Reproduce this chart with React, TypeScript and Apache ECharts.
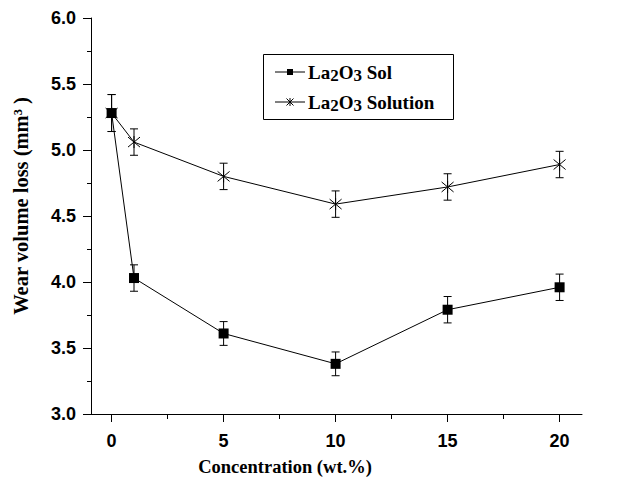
import React, { useEffect, useRef } from "react";
import * as echarts from "echarts";

const concentrations = [0, 1, 5, 10, 15, 20];
const solValues = [5.28, 4.03, 3.61, 3.38, 3.79, 3.96];
const solErrors = [0.14, 0.1, 0.09, 0.09, 0.1, 0.1];
const solutionValues = [5.28, 5.06, 4.8, 4.59, 4.72, 4.89];
const solutionErrors = [0.14, 0.1, 0.1, 0.1, 0.1, 0.1];
const xMajorTicks = [0, 5, 10, 15, 20];
const xMinorTicks = [2.5, 7.5, 12.5, 17.5];
const xTitle = "Concentration (wt.%)";
const yTitle = "Wear volume loss (mm³ )";
const legendLabels = ["La{s|2}O{s|3} Sol", "La{s|2}O{s|3} Solution"];

const STAR = "path://M0,-6L0,6M-5,-5L5,5M-5,5L5,-5";

function errorSeries(values: number[], errors: number[]) {
  const data = concentrations.map((x, i) => [x, values[i] - errors[i], values[i] + errors[i]]);
  return {
    type: "custom",
    xAxisIndex: 0,
    yAxisIndex: 0,
    silent: true,
    data,
    z: 1,
    renderItem: (params: any, api: any) => {
      const x = api.value(0);
      const lo = api.coord([x, api.value(1)]);
      const hi = api.coord([x, api.value(2)]);
      const w = 4;
      const st = { stroke: "#000", lineWidth: 1 };
      return {
        type: "group",
        children: [
          { type: "line", shape: { x1: lo[0], y1: lo[1], x2: hi[0], y2: hi[1] }, style: st },
          { type: "line", shape: { x1: lo[0] - w, y1: lo[1], x2: lo[0] + w, y2: lo[1] }, style: st },
          { type: "line", shape: { x1: hi[0] - w, y1: hi[1], x2: hi[0] + w, y2: hi[1] }, style: st },
        ],
      };
    },
  };
}

export default function App() {
  const ref = useRef<HTMLDivElement>(null);
  useEffect(() => {
    if (!ref.current) return;
    const chart = echarts.init(ref.current, undefined, { renderer: "svg" });
    const sansBold = { fontFamily: "Liberation Sans", fontWeight: "bold" as const, fontSize: 18, color: "#000" };
    const serifFont = "Liberation Serif";
    const axisCommon = {
      axisLine: { show: true, onZero: false, lineStyle: { color: "#000", width: 1 } },
      splitLine: { show: false },
    };
    const st = { stroke: "#000", lineWidth: 1 };
    const legendRich = {
      s: { fontFamily: serifFont, fontWeight: "bold", fontSize: 17, fill: "#000", padding: [7, 0, 0, 0] },
    };
    const legendText = (label: string, y: number) => ({
      type: "text",
      x: 308,
      y,
      z: 12,
      style: {
        text: label,
        font: `bold 19px "${serifFont}"`,
        fill: "#000",
        verticalAlign: "middle",
        rich: legendRich,
      },
    });
    const row1 = 72;
    const row2 = 102;
    const ln = (x1: number, y1: number, x2: number, y2: number) => ({
      type: "line",
      z: 12,
      shape: { x1, y1, x2, y2 },
      style: st,
    });
    chart.setOption({
      animation: false,
      backgroundColor: "#fff",
      grid: { left: 91, right: 44, top: 18, bottom: 66 },
      graphic: [
        {
          type: "text",
          x: 285,
          y: 467,
          style: { text: xTitle, font: `bold 18.5px "${serifFont}"`, fill: "#000", align: "center", verticalAlign: "middle" },
        },
        {
          type: "text",
          x: 21,
          y: 206,
          rotation: Math.PI / 2,
          style: { text: yTitle, font: `bold 20.5px "${serifFont}"`, fill: "#000", align: "center", verticalAlign: "middle" },
        },
        {
          type: "rect",
          shape: { x: 263.5, y: 54.5, width: 190, height: 65 },
          style: { fill: "#fff", stroke: "#000", lineWidth: 1 },
          z: 10,
        },
        ln(275, row1, 305, row1),
        { type: "rect", z: 12, shape: { x: 287, y: row1 - 3, width: 6, height: 6 }, style: { fill: "#000" } },
        legendText(legendLabels[0], row1),
        ln(275, row2, 305, row2),
        ln(290, row2 - 4, 290, row2 + 4),
        ln(286.5, row2 - 3.5, 293.5, row2 + 3.5),
        ln(286.5, row2 + 3.5, 293.5, row2 - 3.5),
        legendText(legendLabels[1], row2),
      ],
      xAxis: [
        {
          type: "value",
          min: -0.92,
          max: 21,
          ...axisCommon,
          axisTick: { show: true, inside: false, length: 8, customValues: xMajorTicks, lineStyle: { color: "#000" } },
          axisLabel: { ...sansBold, margin: 18, customValues: xMajorTicks, formatter: (v: number) => String(v) },
        },
        {
          type: "value",
          min: -0.92,
          max: 21,
          position: "bottom",
          axisLine: { show: false },
          splitLine: { show: false },
          axisTick: { show: true, inside: false, length: 5, customValues: xMinorTicks, lineStyle: { color: "#000" } },
          axisLabel: { show: false },
        },
      ],
      yAxis: {
        type: "value",
        min: 3,
        max: 6,
        interval: 0.5,
        ...axisCommon,
        axisTick: { show: true, inside: false, length: 8, lineStyle: { color: "#000" } },
        minorTick: { show: true, splitNumber: 2, length: 4, lineStyle: { color: "#000" } },
        axisLabel: { ...sansBold, margin: 15, formatter: (v: number) => v.toFixed(1) },
      },
      series: [
        errorSeries(solValues, solErrors),
        errorSeries(solutionValues, solutionErrors),
        {
          name: "La2O3 Sol",
          type: "line",
          data: concentrations.map((x, i) => [x, solValues[i]]),
          symbol: "rect",
          symbolSize: 10,
          lineStyle: { color: "#000", width: 1 },
          itemStyle: { color: "#000" },
          z: 3,
        },
        {
          name: "La2O3 Solution",
          type: "line",
          data: concentrations.map((x, i) => [x, solutionValues[i]]),
          symbol: STAR,
          symbolSize: 12,
          lineStyle: { color: "#000", width: 1 },
          itemStyle: { color: "#000", borderColor: "#000", borderWidth: 1 },
          z: 3,
        },
      ],
    });
    return () => chart.dispose();
  }, []);
  return <div ref={ref} style={{ position: "fixed", left: 0, top: 0, width: 626, height: 480 }} />;
}
